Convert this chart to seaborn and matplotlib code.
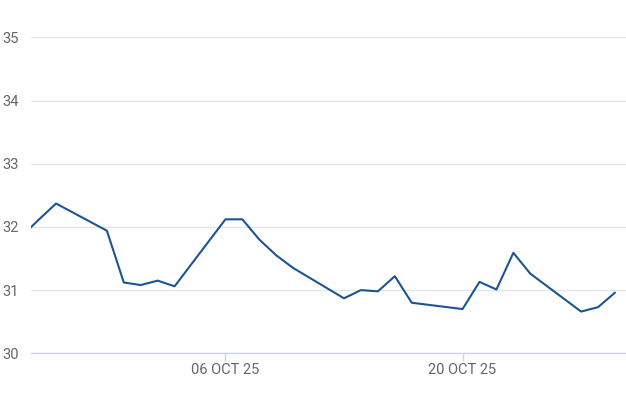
import matplotlib
matplotlib.use("Agg")
import matplotlib.pyplot as plt
import matplotlib.dates as mdates
import seaborn as sns
import pandas as pd
import numpy as np

dates = ["2025-09-24", "2025-09-25", "2025-09-26", "2025-09-29", "2025-09-30",
         "2025-10-01", "2025-10-02", "2025-10-03", "2025-10-06", "2025-10-07",
         "2025-10-08", "2025-10-09", "2025-10-10", "2025-10-13", "2025-10-14",
         "2025-10-15", "2025-10-16", "2025-10-17", "2025-10-20", "2025-10-21",
         "2025-10-22", "2025-10-23", "2025-10-24", "2025-10-27", "2025-10-28",
         "2025-10-29"]
values = [31.86, 32.12, 32.37, 31.94, 31.12,
          31.08, 31.15, 31.06, 32.12, 32.12,
          31.80, 31.55, 31.35, 30.87, 31.00,
          30.98, 31.22, 30.80, 30.70, 31.13,
          31.01, 31.59, 31.26, 30.66, 30.73,
          30.96]
yticks = [30, 31, 32, 33, 34, 35]
xtick_dates = ["2025-10-06", "2025-10-20"]
xtick_labels = ["06 OCT 25", "20 OCT 25"]

df = pd.DataFrame({"date": pd.to_datetime(dates), "value": values})

sns.set_theme(style="white")
plt.rcParams["font.family"] = ["Roboto", "DejaVu Sans"]

fig = plt.figure(figsize=(6.26, 4.17), dpi=100)
ax = fig.add_axes([31 / 626, 1 - 353.3 / 417, (626 - 31) / 626, (353.3 - 37.3) / 417])

sns.lineplot(data=df, x="date", y="value", ax=ax, color="#1c5592", linewidth=1.5)

ax.set_ylim(30, 35)
ax.set_yticks(yticks)
ax.set_yticklabels([str(t) for t in yticks])
left = pd.Timestamp("2025-10-06") - pd.Timedelta(days=11.48)
right = pd.Timestamp("2025-10-29") + pd.Timedelta(days=0.65)
ax.set_xlim(left, right)
ax.set_xticks(pd.to_datetime(xtick_dates))
ax.set_xticklabels(xtick_labels)

ax.grid(axis="y", color="#e6e6e6", linewidth=1)
ax.grid(axis="x", visible=False)
for s in ["top", "right", "left"]:
    ax.spines[s].set_visible(False)
ax.spines["bottom"].set_color("#ccd6eb")
ax.spines["bottom"].set_linewidth(1)
ax.set_xlabel("")
ax.set_ylabel("")
ax.tick_params(axis="y", length=0, pad=9, labelsize=10.5, labelcolor="#666666")
ax.tick_params(axis="x", length=6, width=1, color="#ccd6eb", pad=1,
               labelsize=10.5, labelcolor="#666666", bottom=True)

fig.savefig("out.png", dpi=100)
